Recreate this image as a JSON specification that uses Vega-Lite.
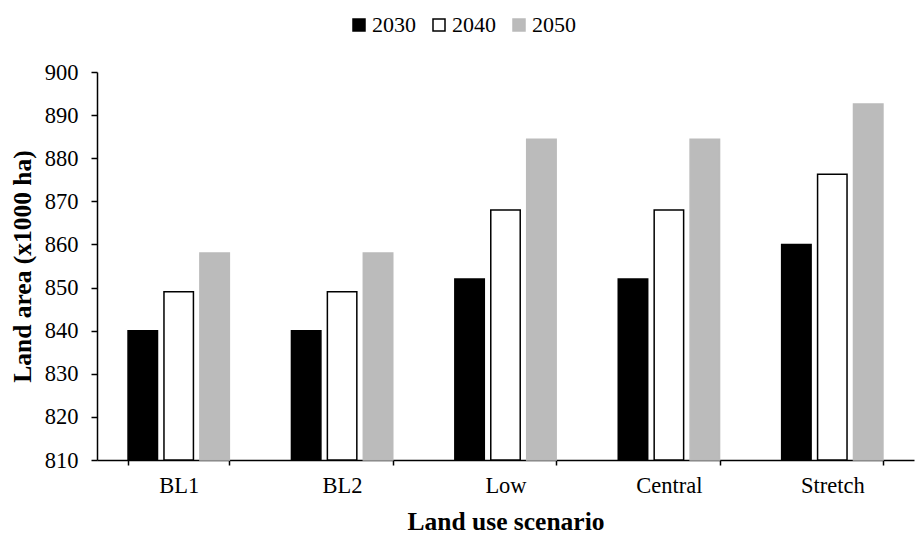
{
  "$schema": "https://vega.github.io/schema/vega-lite/v6.json",
  "width": 817,
  "height": 388,
  "autosize": {"type": "none"},
  "padding": {"left": 97, "top": 72, "right": 3, "bottom": 76},
  "background": "white",
  "config": {
    "font": "Liberation Serif",
    "view": {"stroke": null},
    "axis": {"grid": false, "domainColor": "black", "domainWidth": 1.5, "tickColor": "black", "tickWidth": 1.5, "labelColor": "black", "titleColor": "black", "labelFont": "Liberation Serif", "titleFont": "Liberation Serif"},
    "legend": {"labelFont": "Liberation Serif"}
  },
  "data": {
    "values": [
      {"scenario": "BL1", "year": "2030", "area": 840},
      {"scenario": "BL1", "year": "2040", "area": 849},
      {"scenario": "BL1", "year": "2050", "area": 858},
      {"scenario": "BL2", "year": "2030", "area": 840},
      {"scenario": "BL2", "year": "2040", "area": 849},
      {"scenario": "BL2", "year": "2050", "area": 858},
      {"scenario": "Low", "year": "2030", "area": 852},
      {"scenario": "Low", "year": "2040", "area": 868},
      {"scenario": "Low", "year": "2050", "area": 884.4},
      {"scenario": "Central", "year": "2030", "area": 852},
      {"scenario": "Central", "year": "2040", "area": 868},
      {"scenario": "Central", "year": "2050", "area": 884.4},
      {"scenario": "Stretch", "year": "2030", "area": 860},
      {"scenario": "Stretch", "year": "2040", "area": 876.3},
      {"scenario": "Stretch", "year": "2050", "area": 892.6}
    ]
  },
  "mark": {"type": "bar", "strokeWidth": 1.5},
  "encoding": {
    "x": {
      "field": "scenario",
      "type": "nominal",
      "sort": ["BL1", "BL2", "Low", "Central", "Stretch"],
      "scale": {"paddingInner": 0.38, "paddingOuter": 0.19},
      "axis": {"title": "Land use scenario", "labelAngle": 0, "labelFontSize": 22.5, "titleFontSize": 25.5, "titleFontWeight": "bold", "tickBand": "extent", "tickSize": 5, "labelPadding": 9, "titlePadding": 13}
    },
    "xOffset": {
      "field": "year",
      "type": "nominal",
      "scale": {"paddingInner": 0.18, "paddingOuter": 0}
    },
    "y": {
      "field": "area",
      "type": "quantitative",
      "scale": {"domain": [810, 900], "zero": false, "nice": false},
      "axis": {"title": "Land area (x1000 ha)", "values": [810, 820, 830, 840, 850, 860, 870, 880, 890, 900], "labelFontSize": 22.5, "titleFontSize": 25.5, "titleFontWeight": "bold", "tickSize": 6, "labelPadding": 13, "titlePadding": 9}
    },
    "y2": {"datum": 810},
    "fill": {
      "field": "year",
      "type": "nominal",
      "scale": {"domain": ["2030", "2040", "2050"], "range": ["#000000", "#ffffff", "#bbbbbb"]},
      "legend": {"title": null, "orient": "none", "direction": "horizontal", "legendX": 251, "legendY": -58, "symbolType": "square", "symbolSize": 144, "symbolStrokeWidth": 1.5, "labelFontSize": 22, "labelColor": "black", "labelOffset": 2, "columnPadding": 12, "padding": 0}
    },
    "stroke": {
      "field": "year",
      "type": "nominal",
      "scale": {"domain": ["2030", "2040", "2050"], "range": ["#000000", "#000000", "#bbbbbb"]},
      "legend": null
    }
  }
}
